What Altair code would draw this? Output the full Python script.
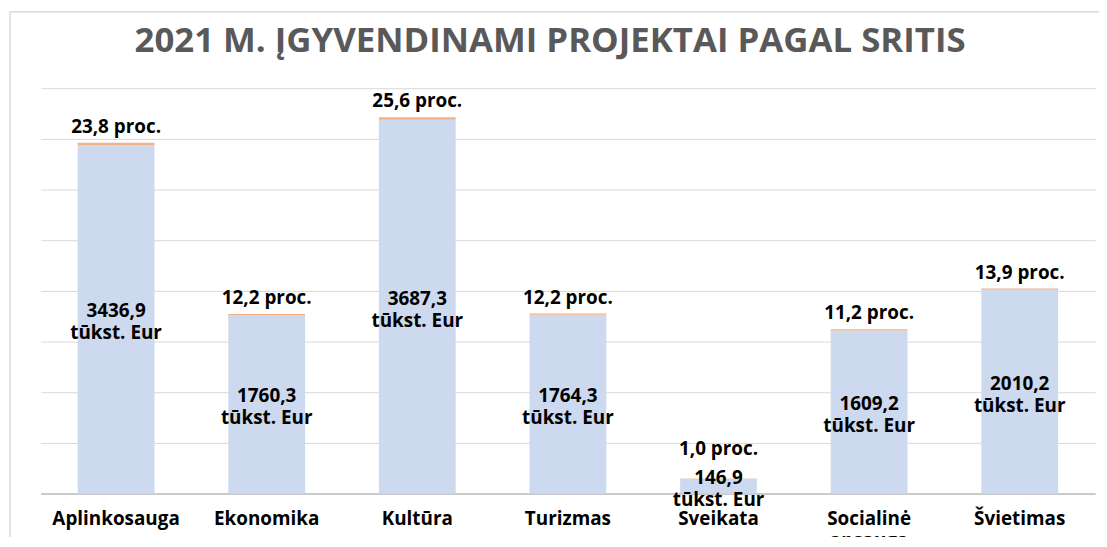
import altair as alt
import pandas as pd

categories = ["Aplinkosauga", "Ekonomika", "Kultūra", "Turizmas", "Sveikata", "Socialinė apsauga", "Švietimas"]
amounts = [3436.9, 1760.3, 3687.3, 1764.3, 146.9, 1609.2, 2010.2]
shares = [23.8, 12.2, 25.6, 12.2, 1.0, 11.2, 13.9]
title_text = "2021 M. ĮGYVENDINAMI PROJEKTAI PAGAL SRITIS"

df = pd.DataFrame({"category": categories, "amount": amounts, "share": shares})
df["amount_label"] = [f"{v:.1f}".replace(".", ",") + "\ntūkst. Eur" for v in amounts]
df["share_label"] = [f"{v:.1f}".replace(".", ",") + " proc." for v in shares]

FONT = "Open Sans"
FS = 19

base = alt.Chart(df).transform_calculate(
    total="datum.amount + datum.share",
    half="datum.amount / 2",
    label_y="max(datum.amount + datum.share, 280)",
)

x_enc = alt.X(
    "category:N",
    sort=categories,
    scale=alt.Scale(paddingInner=0.49, paddingOuter=0.245),
    axis=alt.Axis(
        title=None, labelAngle=0, labelFont=FONT, labelFontSize=FS,
        labelFontWeight="bold", labelColor="#000000", labelPadding=16,
        ticks=False, domainColor="#BFBFBF", domainWidth=1.5,
        labelExpr="split(datum.label, ' ')", labelLineHeight=22,
        labelBaseline="top",
    ),
)

y_axis = alt.Axis(
    title=None, labels=False, ticks=False, domain=False,
    values=list(range(0, 4001, 500)), gridColor="#D9D9D9", gridWidth=1,
)
y_scale = alt.Scale(domain=[0, 4000])

bars = base.mark_bar(color="#CCD9EF").encode(
    x=x_enc, y=alt.Y("amount:Q", scale=y_scale, axis=y_axis)
)
tops = base.mark_bar(color="#F4B183").encode(
    x=x_enc, y=alt.Y("amount:Q", scale=y_scale, axis=y_axis), y2="total:Q"
)
value_text = base.mark_text(
    font=FONT, fontSize=FS, fontWeight="bold", color="#000000",
    lineBreak="\n", lineHeight=22, baseline="middle", dy=-8,
).encode(
    x=x_enc, y=alt.Y("half:Q", scale=y_scale, axis=y_axis), text="amount_label:N"
)
share_text = base.mark_text(
    font=FONT, fontSize=FS, fontWeight="bold", color="#000000",
    baseline="bottom", dy=-6,
).encode(
    x=x_enc, y=alt.Y("label_y:Q", scale=y_scale, axis=y_axis), text="share_label:N"
)

frame_df = pd.DataFrame({"k": [0]})
frame_left = alt.Chart(frame_df).mark_rule(color="#D9D9D9", strokeWidth=1.5).encode(
    x=alt.value(-31), y=alt.value(-77), y2=alt.value(458)
)
frame_top = alt.Chart(frame_df).mark_rule(color="#D9D9D9", strokeWidth=1.5).encode(
    x=alt.value(-31), x2=alt.value(1070), y=alt.value(-77)
)

chart = alt.layer(bars, tops, value_text, share_text, frame_left, frame_top).properties(
    width=1061,
    height=408,
    autosize=alt.AutoSizeParams(type="none"),
    padding={"left": 33, "top": 79, "right": 4, "bottom": 42},
    title=alt.TitleParams(
        text=title_text, font=FONT, fontSize=35, fontWeight="bold",
        color="#595959", anchor="middle", frame="group", dx=-18,
        offset=-76, baseline="alphabetic",
    ),
).configure_view(stroke=None)

chart.save("out.html", embed_options={"renderer": "svg", "actions": False})
